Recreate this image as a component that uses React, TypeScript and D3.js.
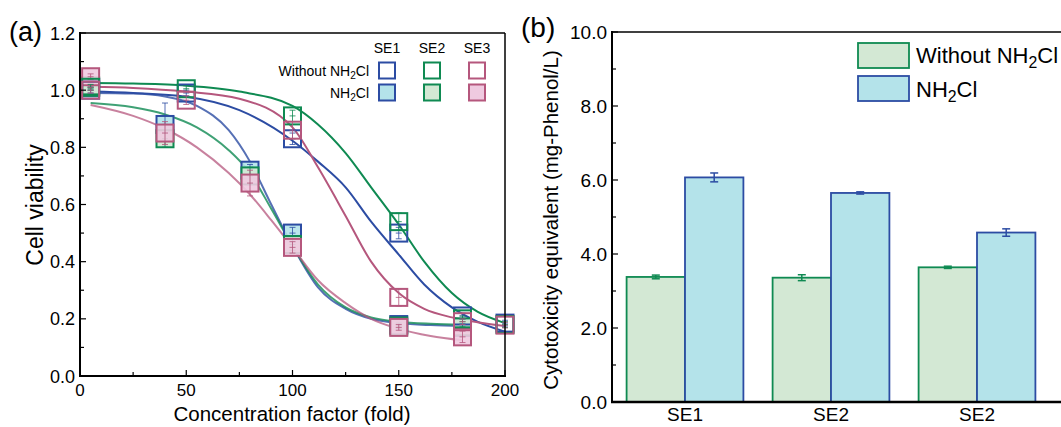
import React from 'react';
import * as d3 from 'd3';

// ---- panel (a) data ----
const concWithout = [5, 50, 100, 150, 180, 200];
const concNH2Cl = [5, 40, 80, 100, 150, 180];

const se1Without = [1.0, 0.99, 0.83, 0.5, 0.21, 0.185];
const se2Without = [1.01, 1.005, 0.91, 0.54, 0.2, 0.18];
const se3Without = [1.0, 0.965, 0.86, 0.275, 0.19, 0.178];
const se1WithoutErr = [0.01, 0.01, 0.02, 0.02, 0.01, 0.01];
const se2WithoutErr = [0.01, 0.01, 0.02, 0.03, 0.01, 0.01];
const se3WithoutErr = [0.01, 0.015, 0.03, 0.03, 0.01, 0.01];

const se1NH2Cl = [1.01, 0.88, 0.72, 0.5, 0.18, 0.17];
const se2NH2Cl = [1.015, 0.83, 0.7, 0.46, 0.175, 0.172];
const se3NH2Cl = [1.047, 0.85, 0.675, 0.45, 0.17, 0.137];
const se1NH2ClErr = [0.01, 0.075, 0.02, 0.02, 0.01, 0.01];
const se2NH2ClErr = [0.01, 0.03, 0.03, 0.02, 0.01, 0.01];
const se3NH2ClErr = [0.01, 0.04, 0.045, 0.02, 0.01, 0.02];

// fitted dose-response curves
const fitXWithout = [5, 25, 50, 75, 100, 112, 125, 137, 150, 162, 175, 187, 200];
const fitSE1Without = [0.995, 0.99, 0.977, 0.93, 0.823, 0.75, 0.66, 0.54, 0.425, 0.32, 0.24, 0.19, 0.155];
const fitSE2Without = [1.025, 1.023, 1.016, 0.995, 0.945, 0.88, 0.78, 0.66, 0.53, 0.4, 0.29, 0.225, 0.185];
const fitSE3Without = [1.012, 1.008, 0.995, 0.97, 0.87, 0.73, 0.56, 0.4, 0.29, 0.235, 0.205, 0.188, 0.175];

const fitXNH2Cl = [5, 25, 40, 55, 70, 80, 90, 100, 112, 125, 137, 150, 165, 180];
const fitSE1NH2Cl = [0.99, 0.988, 0.978, 0.945, 0.86, 0.75, 0.6, 0.455, 0.31, 0.235, 0.2, 0.185, 0.178, 0.175];
const fitSE2NH2Cl = [0.955, 0.94, 0.915, 0.87, 0.79, 0.71, 0.585, 0.455, 0.32, 0.24, 0.205, 0.19, 0.183, 0.18];
const fitSE3NH2Cl = [0.948, 0.91, 0.865, 0.8, 0.71, 0.635, 0.545, 0.45, 0.335, 0.255, 0.2, 0.165, 0.14, 0.125];

const xTicksA = [0, 50, 100, 150, 200];
const yTicksA = [0, 0.2, 0.4, 0.6, 0.8, 1.0, 1.2];

// ---- panel (b) data ----
const samples = ['SE1', 'SE2', 'SE3'];
const sampleLabels = ['SE1', 'SE2', 'SE2'];
const toxWithout = [3.38, 3.36, 3.64];
const toxWithoutErr = [0.05, 0.08, 0.03];
const toxNH2Cl = [6.07, 5.65, 4.58];
const toxNH2ClErr = [0.12, 0.03, 0.1];
const yTicksB = [0, 2, 4, 6, 8, 10];

const BLUE = '#2c4ca3';
const GREEN = '#0f8a52';
const PINK = '#b5577d';
const BLUE_FILL = '#b4e3ea';
const GREEN_FILL = '#d3e8d4';
const PINK_FILL = '#efcae0';

const FONT = 'Liberation Sans, Arial, Helvetica, sans-serif';

const xA = d3.scaleLinear().domain([0, 200]).range([80, 505]);
const yA = d3.scaleLinear().domain([0, 1.2]).range([376, 33]);

const xB = d3.scaleBand().domain(samples).range([612, 1050]).paddingInner(0.2).paddingOuter(0.1);
const subB = d3.scaleBand().domain(['without', 'nh2cl']).range([0, xB.bandwidth()]);
const yB = d3.scaleLinear().domain([0, 10]).range([402, 32]);

const NH2Cl = ({ sub = 4 }: { sub?: number }) => (
  <>
    <tspan>NH</tspan>
    <tspan dy={sub} fontSize="0.72em">2</tspan>
    <tspan dy={-sub}>Cl</tspan>
  </>
);

const SQ = 17;

function Points({ xs, ys, errs, color, fill, light }: any) {
  return (
    <g>
      {xs.map((xv: number, i: number) => {
        const cx = xA(xv);
        const cy = yA(ys[i]);
        const top = yA(ys[i] + errs[i]);
        const bot = yA(ys[i] - errs[i]);
        return (
          <g key={i}>
            <rect x={cx - SQ / 2} y={cy - SQ / 2} width={SQ} height={SQ}
              fill={fill} fillOpacity={light ? 0.9 : 0} stroke={color} strokeWidth={2} />
            <line x1={cx} x2={cx} y1={top} y2={bot} stroke={color} strokeWidth={1} opacity={0.8} />
            <line x1={cx - 3} x2={cx + 3} y1={top} y2={top} stroke={color} strokeWidth={1} opacity={0.8} />
            <line x1={cx - 3} x2={cx + 3} y1={bot} y2={bot} stroke={color} strokeWidth={1} opacity={0.8} />
            <line x1={cx - 3} x2={cx + 3} y1={cy} y2={cy} stroke={color} strokeWidth={1} opacity={0.8} />
          </g>
        );
      })}
    </g>
  );
}

const fitLine = d3.line<[number, number]>().x(d => xA(d[0])).y(d => yA(d[1])).curve(d3.curveMonotoneX);
const pairs = (xs: number[], ys: number[]) => xs.map((x, i) => [x, ys[i]] as [number, number]);

function PanelA() {
  const minorX = d3.range(0, 201, 25);
  const minorY = d3.range(0, 1.21, 0.1);
  return (
    <g fontFamily={FONT}>
      {/* fit curves */}
      <g fill="none" strokeWidth={2}>
        <path d={fitLine(pairs(fitXNH2Cl, fitSE1NH2Cl)) || ''} stroke={BLUE} opacity={0.8} />
        <path d={fitLine(pairs(fitXNH2Cl, fitSE2NH2Cl)) || ''} stroke={GREEN} opacity={0.8} />
        <path d={fitLine(pairs(fitXNH2Cl, fitSE3NH2Cl)) || ''} stroke={PINK} opacity={0.75} />
        <path d={fitLine(pairs(fitXWithout, fitSE1Without)) || ''} stroke={BLUE} />
        <path d={fitLine(pairs(fitXWithout, fitSE2Without)) || ''} stroke={GREEN} />
        <path d={fitLine(pairs(fitXWithout, fitSE3Without)) || ''} stroke={PINK} />
      </g>
      <Points xs={concNH2Cl} ys={se1NH2Cl} errs={se1NH2ClErr} color={BLUE} fill={BLUE_FILL} light />
      <Points xs={concNH2Cl} ys={se2NH2Cl} errs={se2NH2ClErr} color={GREEN} fill={GREEN_FILL} light />
      <Points xs={concNH2Cl} ys={se3NH2Cl} errs={se3NH2ClErr} color={PINK} fill={PINK_FILL} light />
      <Points xs={concWithout} ys={se1Without} errs={se1WithoutErr} color={BLUE} fill="none" />
      <Points xs={concWithout} ys={se2Without} errs={se2WithoutErr} color={GREEN} fill="none" />
      <Points xs={concWithout} ys={se3Without} errs={se3WithoutErr} color={PINK} fill="none" />

      {/* frame */}
      <line x1={80} x2={505} y1={33} y2={33} stroke="#000" strokeWidth={1.5} />
      <line x1={505} x2={505} y1={33} y2={376} stroke="#000" strokeWidth={1.5} />
      <line x1={79} x2={506} y1={376} y2={376} stroke="#000" strokeWidth={2} />
      <line x1={80} x2={80} y1={32} y2={377} stroke="#000" strokeWidth={2} />

      {minorX.map(t => (
        <line key={'mx' + t} x1={xA(t)} x2={xA(t)} y1={376} y2={376 - (t % 50 === 0 ? 6 : 4)} stroke="#000" strokeWidth={1.2} />
      ))}
      {minorY.map((t, i) => (
        <line key={'my' + i} x1={80} x2={80 + (i % 2 === 0 ? 6 : 4)} y1={yA(t)} y2={yA(t)} stroke="#000" strokeWidth={1.2} />
      ))}
      {xTicksA.map(t => (
        <text key={'xt' + t} x={xA(t)} y={396} textAnchor="middle" fontSize={17}>{t}</text>
      ))}
      {yTicksA.map(t => (
        <text key={'yt' + t} x={75} y={yA(t) + 6.5} textAnchor="end" fontSize={18}>{t.toFixed(1)}</text>
      ))}
      <text x={292} y={421} textAnchor="middle" fontSize={20.5}>Concentration factor (fold)</text>
      <text transform="translate(43,205) rotate(-90)" textAnchor="middle" fontSize={23}>Cell viability</text>
      <text x={9} y={41} fontSize={27}>(a)</text>

      {/* legend */}
      <g fontSize={14}>
        {['SE1', 'SE2', 'SE3'].map((s, i) => (
          <text key={s} x={387 + i * 45} y={53} textAnchor="middle">{s}</text>
        ))}
        <text x={369} y={76} textAnchor="end"><tspan>Without </tspan><NH2Cl sub={3} /></text>
        <text x={369} y={98} textAnchor="end"><NH2Cl sub={3} /></text>
        {[BLUE, GREEN, PINK].map((c, i) => (
          <g key={c}>
            <rect x={379 + i * 45} y={62.5} width={16} height={16} fill="none" stroke={c} strokeWidth={2} />
            <rect x={379 + i * 45} y={84.5} width={16} height={16} fill={[BLUE_FILL, GREEN_FILL, PINK_FILL][i]} stroke={c} strokeWidth={2} />
          </g>
        ))}
      </g>
    </g>
  );
}

function ErrBar({ x, v, e, color }: any) {
  const t = yB(v + e);
  const b = yB(v - e);
  return (
    <g stroke={color} strokeWidth={1.5}>
      <line x1={x} x2={x} y1={t} y2={b} />
      <line x1={x - 4} x2={x + 4} y1={t} y2={t} />
      <line x1={x - 4} x2={x + 4} y1={b} y2={b} />
    </g>
  );
}

function PanelB() {
  const minor = d3.range(0, 10.01, 1);
  const bw = subB.bandwidth();
  return (
    <g fontFamily={FONT}>
      {samples.map((s, i) => {
        const gx = xB(s) as number;
        const x0 = gx + (subB('without') as number);
        const x1 = gx + (subB('nh2cl') as number);
        return (
          <g key={s}>
            <rect x={x0} y={yB(toxWithout[i])} width={bw} height={yB(0) - yB(toxWithout[i])}
              fill={GREEN_FILL} stroke={GREEN} strokeWidth={1.8} />
            <rect x={x1} y={yB(toxNH2Cl[i])} width={bw} height={yB(0) - yB(toxNH2Cl[i])}
              fill={BLUE_FILL} stroke={BLUE} strokeWidth={1.8} />
            <ErrBar x={x0 + bw / 2} v={toxWithout[i]} e={toxWithoutErr[i]} color={GREEN} />
            <ErrBar x={x1 + bw / 2} v={toxNH2Cl[i]} e={toxNH2ClErr[i]} color={BLUE} />
            <text x={gx + xB.bandwidth() / 2} y={421} textAnchor="middle" fontSize={19}>{sampleLabels[i]}</text>
          </g>
        );
      })}
      <line x1={612} x2={1080} y1={32} y2={32} stroke="#000" strokeWidth={1.5} />
      <line x1={612} x2={612} y1={31} y2={403} stroke="#000" strokeWidth={2} />
      <line x1={611} x2={1080} y1={402} y2={402} stroke="#000" strokeWidth={2.5} />
      {minor.map((t, i) => (
        <line key={'bt' + i} x1={612} x2={612 + (i % 2 === 0 ? 6 : 4)} y1={yB(t)} y2={yB(t)} stroke="#000" strokeWidth={1.2} />
      ))}
      {yTicksB.map(t => (
        <text key={'by' + t} x={607} y={yB(t) + 7} textAnchor="end" fontSize={19}>{t.toFixed(1)}</text>
      ))}
      <text transform="translate(558,220) rotate(-90)" textAnchor="middle" fontSize={20.5}>Cytotoxicity equivalent (mg-Phenol/L)</text>
      <text x={521} y={37} fontSize={28}>(b)</text>

      <rect x={858} y={43} width={51} height={25} fill={GREEN_FILL} stroke={GREEN} strokeWidth={1.8} />
      <rect x={858} y={76} width={51} height={25} fill={BLUE_FILL} stroke={BLUE} strokeWidth={1.8} />
      <text x={916} y={63} fontSize={22}><tspan>Without </tspan><NH2Cl sub={5} /></text>
      <text x={916} y={97} fontSize={22}><NH2Cl sub={5} /></text>
    </g>
  );
}

export default function App() {
  return (
    <svg width={1061} height={427} style={{ position: 'absolute', left: 0, top: 0, background: '#fff' }}>
      <rect width={1061} height={427} fill="#fff" />
      <PanelA />
      <PanelB />
    </svg>
  );
}
